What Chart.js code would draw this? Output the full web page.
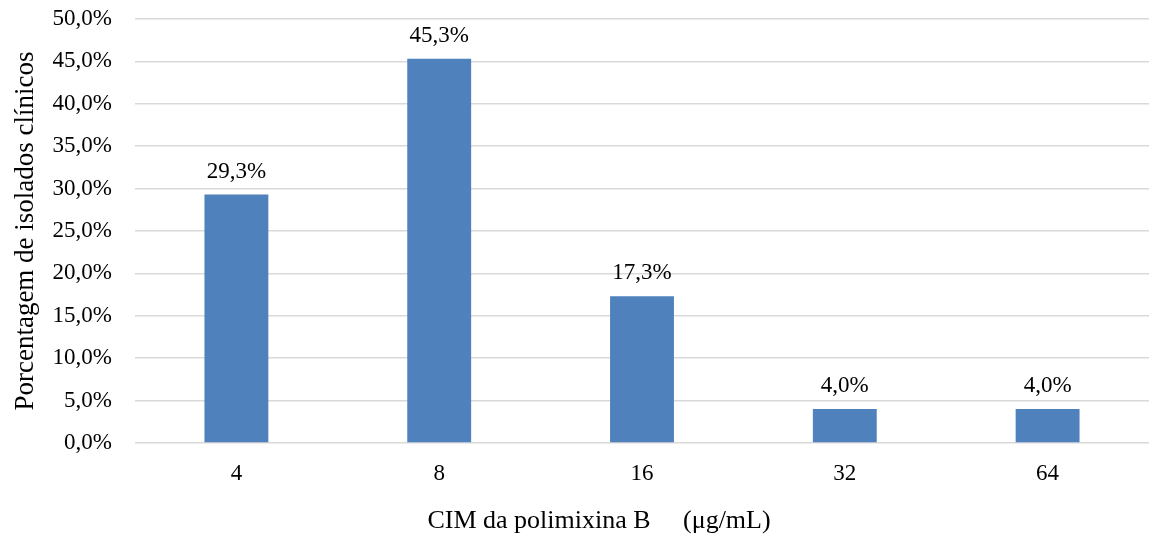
<!DOCTYPE html>
<html>
<head>
<meta charset="utf-8">
<script src="https://cdn.jsdelivr.net/npm/chart.js@4"></script>
<style>
  html, body { margin: 0; padding: 0; background: #fff; }
  #wrap { width: 1149px; height: 536px; }
</style>
</head>
<body>
<div id="wrap"><canvas id="c" width="1149" height="536"></canvas></div>
<script>
// MIC values (µg/mL) and share of clinical isolates at each value (%)
const categories = ['4', '8', '16', '32', '64'];
const percentages = [29.3, 45.3, 17.3, 4.0, 4.0];
const yTicks = [0, 5, 10, 15, 20, 25, 30, 35, 40, 45, 50];

const yTitle = 'Porcentagem de isolados clínicos';
const xTitle = 'CIM da polimixina B     (μg/mL)';

const FONT = '"Liberation Serif", "Times New Roman", serif';
const SIZE = 23;
const TITLE_SIZE = 27;
const fmt = v => v.toFixed(1).replace('.', ',') + '%';

// Value labels above each bar
const valueLabels = {
  id: 'valueLabels',
  afterDatasetsDraw(chart) {
    const ctx = chart.ctx;
    const meta = chart.getDatasetMeta(0);
    ctx.save();
    ctx.font = SIZE + 'px ' + FONT;
    ctx.fillStyle = '#000';
    ctx.textAlign = 'center';
    ctx.textBaseline = 'alphabetic';
    meta.data.forEach((bar, i) => {
      ctx.fillText(fmt(percentages[i]), bar.x, bar.y - 17);
    });
    ctx.restore();
  }
};

// Horizontal axis caption, placed slightly left of the plot centre
const xCaption = {
  id: 'xCaption',
  afterDraw(chart) {
    const ctx = chart.ctx;
    const a = chart.chartArea;
    ctx.save();
    ctx.font = (TITLE_SIZE - 1) + 'px ' + FONT;
    ctx.fillStyle = '#000';
    ctx.textAlign = 'center';
    ctx.textBaseline = 'alphabetic';
    ctx.fillText(xTitle, (a.left + a.right) / 2 - 43, 528);
    ctx.restore();
  }
};

new Chart(document.getElementById('c'), {
  type: 'bar',
  data: {
    labels: categories,
    datasets: [{
      data: percentages,
      backgroundColor: '#4f81bd',
      borderWidth: 0,
      categoryPercentage: 1,
      barPercentage: 0.315
    }]
  },
  options: {
    responsive: false,
    animation: false,
    devicePixelRatio: 1,
    layout: { padding: { top: 19, right: 0, bottom: 0, left: 0 } },
    plugins: {
      legend: { display: false },
      tooltip: { enabled: false }
    },
    scales: {
      x: {
        grid: { display: false, drawTicks: false },
        border: { display: false },
        ticks: { color: '#000', font: { family: FONT, size: SIZE }, padding: 17 },
        afterFit(s) { s.height = 93; }
      },
      y: {
        min: 0,
        max: 50,
        afterBuildTicks(s) { s.ticks = yTicks.map(v => ({ value: v })); },
        grid: { color: '#d9d9d9', lineWidth: 1.5, drawTicks: false },
        border: { display: false },
        ticks: {
          color: '#000',
          font: { family: FONT, size: SIZE },
          padding: 23,
          callback: v => fmt(v)
        },
        title: {
          display: true,
          text: yTitle,
          color: '#000',
          font: { family: FONT, size: TITLE_SIZE },
          padding: { top: 10, bottom: 0 }
        },
        afterFit(s) {
          s.width = 135;
          s.paddingTop = 0;
          s.paddingBottom = 0;
        }
      }
    }
  },
  plugins: [valueLabels, xCaption]
});
</script>
</body>
</html>
